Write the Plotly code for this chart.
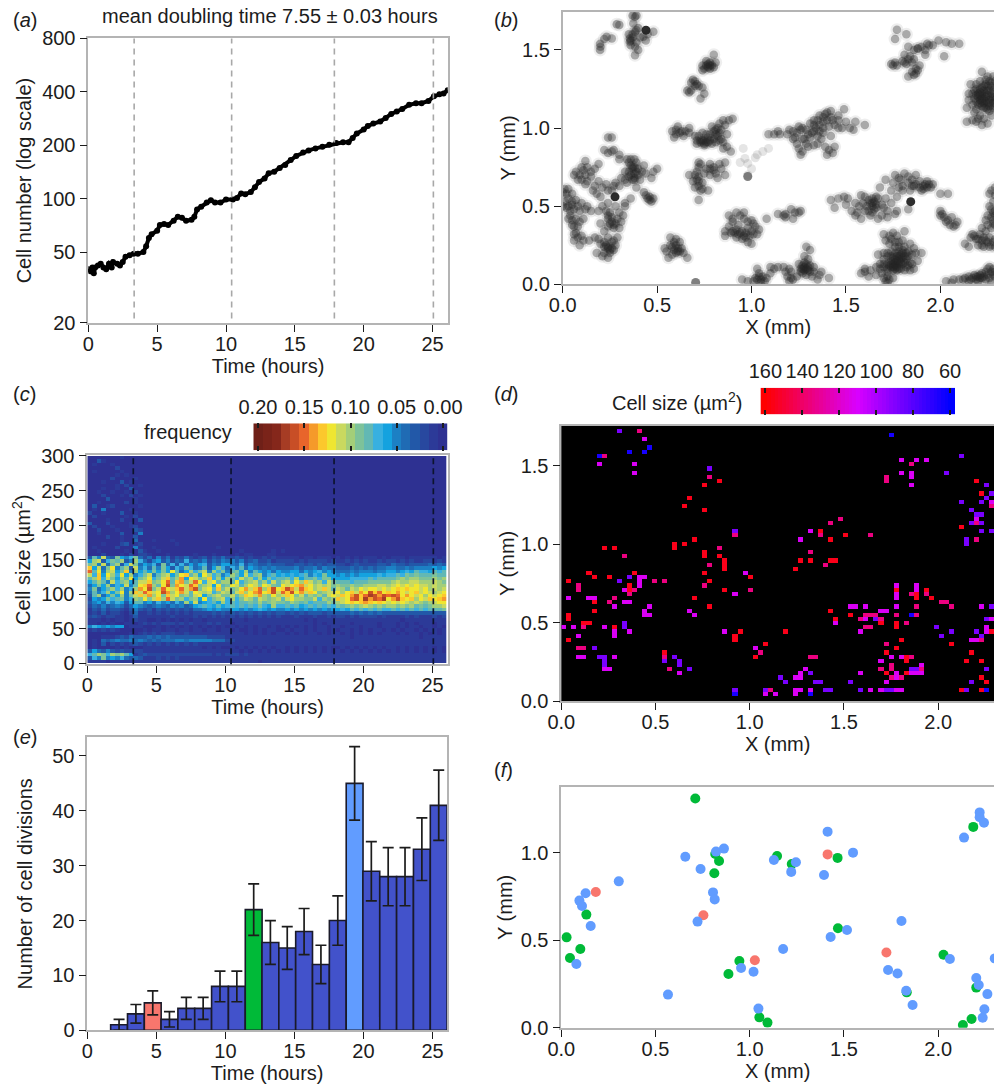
import plotly.graph_objects as go

W, H = 994, 1086
FONT = "Liberation Sans"
INK = "#1c1c1c"
FRAME = "#b4b4b4"
TICK = 20

# ---------- (a) cell number ----------
a_time = [0,.15,.3,.4,.5,.7,.9,1.1,1.3,1.5,1.7,1.8,2.1,2.3,2.5,2.7,3,3.3,3.6,4,4.2,4.4,4.6,5,5.2,5.5,5.8,6.2,6.5,6.8,7.1,7.5,7.7,7.9,8.2,8.6,8.9,9.2,9.6,10,10.5,10.8,11.1,11.4,11.8,12.1,12.4,12.8,13.1,13.5,13.9,14.3,14.7,15.1,15.6,16,16.5,17,17.5,18,18.5,18.9,19.2,19.5,20,20.3,20.7,21.2,21.6,22,22.4,22.8,23.3,23.8,24.2,24.7,25.1,25.5,25.8,26.1]
a_cells = [40,39,41,38,41,42,43,41,40,43,41,44,43,42,44,47,48,49,49,50,54,60,63,66,71,72,71,75,79,78,75,76,79,87,90,95,98,95,95,99,99,101,107,106,109,116,124,130,139,142,149,155,165,174,182,187,192,196,201,206,208,208,220,233,245,257,265,272,285,300,310,320,338,345,345,355,378,388,392,408]
event_times = [3.33, 10.41, 17.87, 25.06]
a_yticks = [20, 50, 100, 200, 400, 800]

# ---------- (b) cell positions (mm) ----------
b_pts_top = [(.198,1.54),(.198,1.5),(.233,1.584),(.26,1.574),(.286,1.665),(.356,1.574),(.356,1.552),(.36,1.56),(.383,1.616),(.39,1.627),(.383,1.712),(.374,1.67),(.383,1.52),(.383,1.467),(.427,1.584),(.48,1.616),(.37,1.6),(.40,1.64),
 (.76,1.40),(.77,1.41),(.78,1.42),(.79,1.40),(.75,1.38),(.80,1.39),(.80,1.47),(.70,1.30),(.69,1.31),(.71,1.28),(.67,1.23),(.66,1.24),(.73,1.19),(.75,1.22),(.72,1.27),(.77,1.39),(.78,1.40)]
b_pts_mid = [(.58,.98),(.60,.99),(.62,.97),(.63,.98),(.60,.96),(.65,.98),(.71,.92),(.73,.91),(.74,.92),(.76,.91),(.78,.92),(.80,.93),(.82,.95),(.83,.97),(.84,.99),(.86,1.02),(.88,1.05),(.90,1.06),(.80,.98),(.82,1.0),(.78,.96),(.84,.93),(.87,.88),(.89,.85),(.85,.91),(.74,.97),(.70,.95),(.73,.92),(.75,.90),
 (.72,.78),(.72,.75),(.76,.74),(.80,.75),(.80,.73),(.83,.77),(.86,.78),(.86,.70),(.70,.70),(.67,.70),(.71,.67),(.72,.66),(.74,.65),(.73,.60),(.72,.54),(.77,.60),(.78,.74),(.72,.69),
 (1.09,.96),(1.12,.96),(1.15,.96),(1.19,.96),(1.22,.98),(1.24,.97),(1.26,.99),(1.30,.96),(1.32,.97),(1.34,1.0),(1.36,1.02),(1.38,1.04),(1.40,1.05),(1.36,.98),(1.42,1.07),(1.40,1.10),(1.36,1.08),(1.33,1.05),(1.44,1.02),(1.46,1.00),(1.48,1.0),(1.52,1.0),(1.54,.99),(1.46,1.08),(1.49,1.12),(1.55,1.04),(1.60,1.02),(1.24,.90),(1.25,.87),(1.26,.83),(1.30,.88),(1.33,.89),(1.37,.93),(1.41,.86),(1.40,.83),(1.44,.88),(1.43,.84),(1.28,.93)]
b_pts_left = [(.24,.94),(.26,.94),(.22,.86),(.26,.85),(.30,.83),(.12,.79),(.10,.75),(.07,.72),(.09,.70),(.10,.67),(.12,.70),(.17,.74),(.15,.72),(.13,.66),(.18,.58),(.16,.60),(.20,.56),
 (.36,.80),(.36,.76),(.37,.74),(.38,.75),(.39,.78),(.40,.74),(.43,.76),(.44,.71),(.47,.68),(.50,.74),(.48,.72),(.38,.68),(.37,.67),(.40,.70),(.34,.65),(.30,.63),(.27,.63),(.33,.67),(.39,.62),(.37,.75),(.38,.67),
 (.01,.61),(.03,.61),(.03,.50),(.02,.49),(.05,.51),(.05,.53),(.06,.48),(.09,.47),(.12,.48),(.07,.42),(.05,.38),(.06,.37),(.09,.40),(.04,.44),(.08,.30),(.10,.31),
 (.23,.47),(.25,.46),(.26,.43),(.24,.42),(.27,.38),(.28,.39),(.24,.37),(.30,.46),(.33,.50),(.32,.44),(.44,.57),(.46,.54),(.47,.53),(.48,.55),
 (.17,.30),(.20,.26),(.22,.24),(.24,.23),(.26,.23),(.28,.25),(.29,.30),(.27,.28),(.21,.18),(.24,.17),(.25,.20),(.06,.28),(.09,.25),
 (.54,.23),(.57,.30),(.58,.24),(.59,.22),(.61,.23),(.61,.21),(.59,.27),(.56,.17),(.62,.27),(.64,.20),(.66,.17)]
b_pts_low = [(.88,.44),(.92,.46),(.96,.46),(.90,.40),(.93,.38),(.96,.42),(1.0,.41),(1.02,.37),(.86,.34),(.89,.33),(.91,.33),(.93,.32),(.95,.34),(.97,.33),(.99,.31),(1.01,.32),(1.03,.32),(1.04,.35),(.98,.27),(1.0,.26),(1.08,.42),(1.14,.45),
 (1.17,.44),(1.18,.45),(1.21,.48),(1.23,.46),(1.25,.46),(1.26,.47),(1.22,.42),(1.18,.43),
 (.95,.03),(.98,.02),(1.02,.04),(1.04,.05),(1.05,.03),(1.07,.02),(1.03,.10),(1.08,.04),(1.10,.11),(1.14,.11),(1.17,.11),(1.20,.10),(1.19,.05),(1.21,.04),(1.22,.03),(1.26,.10),(1.27,.12),(1.28,.11),(1.30,.09),(1.27,.07),(1.31,.12),(1.29,.24),(1.31,.22),(1.28,.18),(1.30,.16),(1.33,.08),(1.36,.06),(1.41,.04),(1.32,.05),(1.28,.09),(1.29,.10)]
b_pts_right = [(1.42,.54),(1.44,.49),(1.46,.55),(1.49,.56),(1.51,.55),(1.55,.52),(1.56,.46),(1.58,.57),(1.60,.56),(1.63,.52),(1.64,.50),(1.65,.53),(1.67,.55),(1.65,.48),(1.69,.51),(1.63,.44),(1.69,.44),(1.60,.47),(1.72,.47),(1.76,.45),(1.78,.62),(1.74,.60),(1.76,.70),(1.79,.67),(1.81,.71),(1.83,.65),(1.87,.70),(1.86,.63),(1.89,.62),(1.91,.63),(1.93,.66),(1.93,.62),(1.95,.62),(1.85,.63),(1.75,.65),(1.71,.67),(1.80,.60),(1.90,.60),(2.04,.58),(2.0,.58),(1.68,.62),(1.83,.48),(1.64,.52),(1.66,.51),
 (1.60,.08),(1.62,.05),(1.60,.10),(1.67,.19),(1.70,.20),(1.72,.18),(1.74,.15),(1.76,.16),(1.78,.18),(1.80,.20),(1.82,.16),(1.84,.14),(1.85,.19),(1.87,.20),(1.90,.20),(1.78,.13),(1.80,.13),(1.76,.12),(1.74,.11),(1.72,.10),(1.70,.11),(1.68,.10),(1.75,.09),(1.72,.05),(1.70,.04),(1.71,.02),(1.78,.10),(1.82,.11),(1.86,.10),(1.70,.32),(1.73,.31),(1.75,.33),(1.77,.31),(1.81,.34),(1.73,.26),(1.78,.24),(1.84,.26),(1.76,.20),(1.79,.16),(1.81,.18),(1.83,.18),(1.77,.09),(1.74,.18),(1.70,.16),(1.88,.15),(1.77,.15),(1.79,.14),(1.75,.13),(1.80,.17),(1.73,.12),
 (2.0,.47),(2.01,.45),(2.04,.41),(2.05,.38),(2.07,.37),(2.09,.40),(2.02,.43)]
b_pts_corner = [(1.77,1.63),(1.82,1.6),(1.76,1.57),(1.83,1.52),(1.88,1.51),(1.94,1.53),(1.96,1.53),(1.99,1.56),(2.03,1.55),(2.06,1.54),(2.10,1.54),(2.02,1.46),(1.74,1.41),(1.76,1.42),(1.80,1.43),(1.82,1.41),(1.84,1.46),(1.86,1.44),(1.85,1.36),(1.87,1.35),(1.83,1.33),(1.89,1.40),(1.92,1.47),(1.88,1.51),
 (2.17,1.22),(2.19,1.25),(2.20,1.20),(2.21,1.18),(2.22,1.22),(2.23,1.16),(2.24,1.20),(2.25,1.24),(2.26,1.18),(2.27,1.22),(2.20,1.15),(2.22,1.14),(2.24,1.13),(2.26,1.14),(2.28,1.16),(2.19,1.28),(2.21,1.30),(2.22,1.26),(2.24,1.28),(2.26,1.30),(2.28,1.33),(2.27,1.27),(2.25,1.33),(2.22,1.36),(2.15,1.18),(2.17,1.15),(2.19,1.12),(2.16,1.28),(2.21,1.08),(2.20,1.06),(2.17,1.05),(2.22,1.02),(2.14,1.04),(2.25,1.03),(2.14,1.13),(2.27,1.08),(2.29,1.2),(2.29,1.26),(2.29,1.14),(2.21,1.21),(2.23,1.19),(2.22,1.17),(2.24,1.22),(2.20,1.22),(2.25,1.16),
 (2.27,.60),(2.26,.58),(2.29,.62),(2.28,.46),(2.27,.48),(2.25,.44),(2.24,.41),(2.29,.44),(2.17,.32),(2.19,.29),(2.21,.32),(2.23,.30),(2.25,.27),(2.27,.25),(2.13,.26),(2.22,.25),(2.29,.29),(2.28,.39),(2.29,.24),
 (2.03,.02),(2.07,.03),(2.10,.03),(2.13,.04),(2.15,.05),(2.17,.04),(2.19,.05),(2.21,.06),(2.22,.04),(2.24,.08),(2.26,.11),(2.28,.06),(2.24,.03),(2.27,.01),(2.29,.08),(2.2,.02)]
b_pts_dense_upper = [(.22,1.57),(.20,1.52),(.30,1.66),(.35,1.60),(.37,1.58),(.39,1.55),(.41,1.58),(.36,1.53),(.40,1.50),(.39,1.72),(.37,1.72),(.45,1.60),(.44,1.56),
 (.74,1.37),(.76,1.43),(.78,1.38),(.81,1.42),(.74,1.40),(.68,1.29),(.70,1.27),(.68,1.24),(.74,1.26),
 (.59,.94),(.61,1.01),(.64,.95),(.67,.97),(.71,.90),(.75,.89),(.77,.94),(.79,.90),(.81,.91),(.83,.92),(.81,.99),(.79,1.01),(.83,1.03),(.85,1.05),(.72,.95),(.76,.96),(.87,.96),(.85,.87),(.67,1.0),(.81,.96),(.77,.91),(.75,.92),
 (.71,.72),(.73,.77),(.75,.71),(.78,.77),(.81,.71),(.78,.70),(.84,.74),(.82,.68),(.69,.66),(.74,.61),(.70,.62),(.72,.63),
 (1.14,.98),(1.20,.99),(1.23,.94),(1.27,.93),(1.29,.99),(1.31,.94),(1.33,1.02),(1.35,.95),(1.38,1.0),(1.38,.97),(1.41,1.01),(1.43,1.05),(1.35,1.05),(1.38,1.07),(1.31,1.03),(1.27,1.0),(1.22,.93),(1.27,.85),(1.29,.90),(1.35,.90),(1.39,.88),(1.42,.95),(1.46,1.05),(1.50,1.04),(1.39,1.09),(1.42,1.11),(1.33,.98),(1.25,1.01),
 (1.81,1.42),(1.83,1.44),(1.85,1.42),(1.87,1.38),(1.86,1.34),(1.88,1.37),(1.86,1.50),(1.90,1.52),(1.92,1.50),(1.93,1.54),(1.81,1.47),(1.77,1.40),(1.75,1.40),
 (2.18,1.24),(2.19,1.21),(2.21,1.23),(2.23,1.24),(2.25,1.21),(2.27,1.19),(2.28,1.2),(2.22,1.19),(2.24,1.17),(2.26,1.16),(2.21,1.16),(2.23,1.13),(2.25,1.12),(2.19,1.17),(2.18,1.19),(2.23,1.27),(2.25,1.27),(2.27,1.29),(2.29,1.30),(2.24,1.31),(2.28,1.24),(2.29,1.18),(2.26,1.24),(2.21,1.25),(2.28,1.13),(2.15,1.22),(2.18,1.10),(2.19,1.04),(2.23,1.06),(2.26,1.11)]
b_pts_dense_lower = [(.11,.73),(.13,.75),(.15,.69),(.08,.67),(.12,.64),(.06,.70),(.19,.77),(.19,.66),(.17,.63),(.23,.64),(.21,.62),(.24,.60),(.26,.60),(.28,.65),(.31,.68),(.35,.72),(.35,.69),(.36,.70),(.33,.72),(.42,.72),(.41,.67),(.38,.71),(.39,.72),(.35,.78),(.38,.80),(.34,.80),(.30,.80),(.27,.86),(.24,.84),
 (.0,.50),(.01,.53),(.04,.47),(.03,.55),(.07,.54),(.10,.52),(.08,.50),(.05,.41),(.03,.42),(.08,.37),(.11,.42),(.13,.50),(.15,.47),(.0,.59),(.02,.58),(.05,.58),(.07,.33),(.06,.32),(.11,.28),(.14,.28),
 (.19,.47),(.21,.50),(.24,.52),(.24,.44),(.26,.40),(.25,.39),(.27,.36),(.29,.42),(.20,.39),(.22,.34),(.31,.40),(.30,.36),(.33,.52),(.36,.55),(.28,.50),
 (.24,.24),(.25,.22),(.23,.25),(.27,.22),(.22,.27),(.19,.29),(.26,.27),(.24,.30),(.18,.20),(.22,.20),(.45,.55),(.46,.56),(.43,.59),
 (.55,.21),(.60,.25),(.62,.21),(.60,.20),(.58,.19),(.63,.23),(.57,.25),(.60,.29),
 (.90,.34),(.92,.35),(.94,.33),(.96,.31),(.98,.36),(1.0,.34),(.92,.30),(.95,.29),(.97,.30),(.88,.37),(.90,.42),(.94,.44),(.98,.40),(1.01,.39),(.86,.31),
 (1.04,.07),(1.06,.05),(1.03,.03),(1.05,.01),(1.01,.02),(1.10,.07),(1.12,.10),(1.18,.08),(1.21,.08),(1.24,.05),(1.20,.02),(1.25,.13),(1.28,.14),(1.26,.08),(1.29,.06),(1.31,.08),(1.33,.11),(1.27,.10),(1.30,.11),(1.29,.13),(1.35,.03),(1.37,.08),
 (1.50,.51),(1.53,.47),(1.57,.50),(1.59,.52),(1.61,.50),(1.62,.54),(1.64,.55),(1.66,.56),(1.66,.49),(1.64,.46),(1.62,.47),(1.67,.42),(1.70,.49),(1.72,.43),(1.58,.42),(1.55,.44),(1.78,.68),(1.80,.63),(1.83,.69),(1.85,.67),(1.87,.64),(1.89,.66),(1.91,.61),(1.94,.64),(1.92,.64),(1.96,.64),(1.77,.56),(1.74,.52),(1.71,.55),(1.84,.60),(1.77,.47),
 (1.75,.17),(1.77,.18),(1.79,.19),(1.81,.14),(1.83,.12),(1.85,.13),(1.82,.20),(1.80,.22),(1.78,.21),(1.76,.14),(1.74,.13),(1.72,.13),(1.70,.13),(1.68,.13),(1.66,.11),(1.72,.20),(1.74,.21),(1.77,.11),(1.79,.10),(1.75,.11),(1.72,.08),(1.69,.07),(1.66,.06),(1.58,.07),(1.63,.09),(1.73,.03),(1.72,.01),(1.75,.04),(1.81,.09),(1.84,.09),(1.83,.21),(1.71,.28),(1.74,.29),(1.76,.27),(1.78,.27),(1.80,.28),(1.81,.24),(1.86,.23),(1.76,.24),(1.78,.15),(1.76,.10),
 (2.03,.40),(2.06,.43),(2.08,.38),(2.0,.44),
 (2.16,.30),(2.18,.31),(2.20,.29),(2.22,.28),(2.24,.28),(2.26,.24),(2.28,.27),(2.26,.30),(2.24,.34),(2.22,.36),(2.25,.38),(2.27,.43),(2.27,.36),(2.29,.47),(2.26,.50),(2.28,.53),(2.29,.38),(2.15,.24),(2.20,.25),(2.23,.24),(2.29,.57),(2.28,.41),
 (2.12,.03),(2.16,.03),(2.18,.06),(2.20,.05),(2.21,.04),(2.23,.05),(2.22,.07),(2.25,.06),(2.26,.04),(2.27,.08),(2.28,.10),(2.19,.03),(2.15,.02),(2.06,.01),(2.29,.05),(2.25,.10)]
b_pts_faint = [(.965,.806),(1.06,.85),(.98,.774),(.956,.87),(1.02,.81),(1.0,.74),(.98,.70),(1.03,.83),(1.09,.87),(.94,.78)]
b_pts_solid = [(.441,1.627),(.277,.56),(1.843,.529)]
b_pts_grey = [(.704,.012),(.98,.69)]

# ---------- (c) size distribution: hundredths, one character per third of an hour ----------
c_size_bins = list(range(295, -5, -5))
c_rows = [
 "0000000100", "0031000000", "0100010000", "0000002000", "0100000100", "0000001010",
 "0000020000100", "0001000301000", "0000001020010", "0001001003000", "0010010010200", "0002000102010",
 "0000300000100", "0010000020100", "0300120000010", "0105000001000", "2001000300100", "0200000010200",
 "0000100200030", "3000200001000", "0200010001200", "0020001000320", "0010000300150", "0000200100300",
 "0000000100400010001", "0001000230120000000100", "0100002000510010000000000000100",
 "0010000010031001000000000000000001000000101", "0002000102022100010000010001000010110001100",
 "385b43965794 241524132421231324 223212112121 111101101110 101010111010 111011111101",
 "6ab3798a35a7 425635243734352435 453523422312 222121222212 112121211212 212121122121",
 "9a5b48a37b94 657394737464673546 654735433433 322332323233 221232222332 433233334343",
 "d6b49c58a3b5 748596375974583697 475846545454 444534453544 333434343445 544545555656",
 "f8c5ab69d5a6 869696c846a79b5a79 5896a5865646 556646567565 444545554556 656768776878",
 "b7d6ca7c6a57 9b58ab69cd8a6ca795 7a86b79a5786 767678576966 565656666767 787989888988",
 "8ad7b96a8c69 ac79bd8ae6cb9ad7a6 a97b9a7a6978 897a68897996 666777787888 89a9aa999a9a",
 "68a85b79a68b bd9acf8de9bfc7bc8a a8c79ab8a7b8 ab8cadb9a7b9 888788899999 abaabbaaaba9",
 "4696a576b58c dfa8cg9ecbfd9ab6c8 9cb8acb9cb98 cbcdebcabab9 a99a99aaabba bcbcbcbbabaa",
 "59468a7a57ae cg9bfcbdfbeg9bc8d9 b9acebdfadgc dgebfdcabdb8 ba8bacbccbcb cdcdccbcabab",
 "4857a69c5adb fdbcgeaceb8cbab79b a8bdacefcdgb fdgcebdc9abb cacdbecgdfcd cecbcdbcbabc",
 "38a4696a59bd beac9dbc9a8bc69ab9 9b8adcbea9ca bdc9b8a9a8bc bdcegdfhgegf gfcecbcacbcd",
 "2656978957a9 c9bdafb9a79a6c79ab 7a79ba8ba9ab 8bcaa99b7a9a dbcfgdhegfhc egdcdacbdcde",
 "356475763688 564756475a6b56786a 7878898a89a9 98a9897888a9 abcdcdedcdcb cbcbaba9abcc",
 "243534542465 434543545346787686 7878787976a7 787867878787 989a9aba9a9a a9a9a8989aab",
 "132423321353 231323232324456565 566565676565 565656565656 676878787877 878787878889",
 "121312210241 121212121212222323 232323232323 323232333233 333434343433 333333333333",
 "232122110131 111111211112121212 121212121212 111211121121 221212222121 111212111212",
 "111010110121 100101010101101111 111101111111 111110101111 111111111111 110111111111",
 "110101001101 212122212121112121 101111111111 111111101011 111011111011 101010111011",
 "576565660111 000101010101010101 010101011010 101010101101 101110111011 101011011010",
 "121212100000 101101101101101101 101001010110 010110101101 011010101101 010110101101",
 "000000000101 212122211211111111 111101010101 101010110101 101010101011 101011010101",
 "000111232433 343434333333332222 111111111111 111111111111 111011111111 111111011111",
 "010434544545 434344455455555444 221111111111 111111111111 111111111111 111111111111",
 "010302121232 121212121212111111 111111111111 111111111111 111111111111 111111111111",
 "010000101000 111111111111101010 010101010101 101010101010 010101010101 101010101010",
 "364353232222 111111111111111111 111010101010 101010101010 101010101010 101010101010",
 "78a97a9a8612 322222222222222121 222121111111 111111111111 111111111111 111111111111",
 "375956574343 111212121111111111 111111111111 111111111111 111111111111 111111111111",
 "111101111111 111111111111111111 111111101111 111111111111 111111111111 111111111111",
]
c_colors = ["#2E3192","#2C3A98","#28489F","#2258A8","#1F6BB4","#1C80C4","#14A2DF","#38B0E0","#62B8B4","#7DC29A","#A3CE79","#C9D95F","#EFE631","#FCC82C","#F59A2A","#E8652B","#C84E26","#A63C24","#85271B","#7A2319","#6F2018"]
c_bar_values = [.20,.19,.18,.17,.16,.15,.14,.13,.12,.11,.10,.09,.08,.07,.06,.05,.04,.03,.02,.01,.00]
c_bar_ticks = [.20,.15,.10,.05,.00]

# ---------- (d) cell-size map: positions in mm, grouped by size class (um2) ----------
d_155 = [(.748,1.384),(.693,1.303),(.667,1.248),(.748,1.22),(.828,1.412),(.72,1.032),(.613,1.004),(.613,.977),(.667,1.004),(.748,.951),(.748,.924),(.828,.924),(.855,.896),(.855,.868),(.881,.841),(.748,.813),(.80,.758),(.855,.705),(.72,.65),(.80,.594),(.99,.786),(.961,.433),(.934,.408),(.934,.38),(1.069,.352),(1.016,.27),(1.177,.433),
 (.238,.977),(.291,.977),(.158,.813),(.184,.786),(.264,.786),(.397,.813),(.05,.758),(.37,.705),(.37,.732),(.184,.622),(.184,.569),(.05,.541),(.05,.514),(.158,.486),(.131,.486),(.291,.459),(.05,.38),(.56,.297),
 (1.23,.841),(1.257,.896),(1.31,.896),(1.418,.896),(1.445,.896),(1.365,1.085),(1.418,1.032),(1.498,1.06),(1.418,.569),(1.445,.514),(1.527,.541),(1.686,.486),(1.768,.705),(1.768,.486),(1.768,.459),(1.795,.378),(1.768,.325),(1.714,.297),(1.876,.677),(1.876,.65),(1.929,.705),(1.956,.65),(2.064,.352),
 (1.714,.161),(1.822,.27),(1.822,.244),(1.822,.161),(1.795,.08),(2.197,1.413),(2.224,1.332),(2.117,1.113),(2.298,1.032),(2.277,.433),(2.17,.297),(2.144,.244),(2.224,.244),(2.224,.134),(2.25,.108),(2.117,.08),(2.224,.08)]
d_135 = [(.425,1.735),(.238,1.573),(.80,1.44),(.908,1.057),(.828,.977),(.775,.868),(.748,.732),(.99,.705),(1.043,.297),(.344,.924),(.103,.732),(.103,.705),(.507,.758),(.534,.758),(.397,.705),(.37,.677),(.291,.65),(.264,.622),(.131,.459),(.103,.325),(.129,.325),(.56,.27),(.587,.189),(1.096,.055),
 (1.312,.27),(1.339,.27),(1.39,.868),(1.31,.951),(1.365,1.06),(1.418,1.14),(1.472,1.167),(1.633,1.06),(1.58,.514),(1.606,.541),(1.633,.541),(1.66,.541),(1.686,.514),(1.606,.459),(1.633,.459),(1.768,.541),(1.714,.352),(1.85,.677),(1.876,.594),(1.876,.541),(1.822,.486),(1.929,.677),(2.01,.622),(2.035,.622),(2.064,.594),(1.742,.217),(1.742,.189),(1.686,.189),(1.742,.134),(1.795,.134),(1.85,.27),(1.903,.189),(1.633,.08),(1.714,1.44),(1.714,1.414),(1.85,1.52),(2.277,1.25),(2.298,1.25),(2.197,1.14),(2.197,1.032),(2.224,.38),(2.298,.244)]
d_112 = [(.452,1.656),(.21,1.52),(.397,1.52),(.397,1.467),(.963,.813),(.934,.677),(.881,.433),(.693,.569),(.72,.541),(1.016,.325),(.424,.786),(.45,.786),(.424,.758),(.424,.732),(.344,.705),(.05,.65),(.158,.65),(.184,.65),(.291,.594),(.344,.622),(.37,.622),(.479,.594),(.452,.569),(.452,.541),(.479,.541),(.025,.459),(.078,.459),(.238,.459),(.291,.433),(.291,.408),(.37,.433),(.103,.408),(.103,.27),(.129,.27),(.291,.27),(.238,.189),(.264,.189),(.64,.163),
 (1.069,.028),(1.122,.028),(1.23,.134),(1.257,.134),(1.257,.161),(1.284,.189),(1.23,.08),(1.257,.08),(1.23,.028),(1.312,.055),(1.257,1.032),(1.31,1.085),(1.445,.486),(1.527,.594),(1.553,.594),(1.606,.594),(1.606,.514),(1.686,.569),(1.713,.569),(1.58,.433),(1.768,.732),(1.768,.677),(1.768,.65),(1.768,.594),(1.876,.732),(1.876,.705),(1.686,.244),(1.768,.161),(1.768,.134),(1.742,.27),(1.795,.27),(1.85,.161),(1.876,.161),(1.903,.161),(1.903,.217),(1.58,.161),(1.58,.055),(1.633,.055),(1.686,.055),(1.714,.108),(1.742,.055),(1.768,.055),(1.795,.055),
 (1.794,1.545),(1.876,1.545),(1.929,1.545),(1.794,1.467),(1.85,1.467),(1.85,1.44),(1.85,1.384),(2.277,1.277),(2.197,1.168),(2.224,.594),(2.25,.459),(2.25,.433),(2.277,.514),(2.17,.38),(2.197,.38),(2.298,.08)]
d_88 = [(.317,1.709),(.775,1.493),(.934,1.085),(.317,.758),(.37,.786),(.344,.486),(.344,.459),(.184,.325),(.21,.27),(.238,.27),(.238,.244),(.238,.217),(.534,.244),(.613,.27),(.64,.244),(.64,.217),(.693,.189),(.934,.08),(1.069,.08),(1.15,.134),(1.177,.108),(1.312,.161),(1.339,.108),(1.365,.108),(1.392,.08),(1.418,.055),(1.66,.514),(1.982,.459),(2.01,.408),(2.064,.433),(1.527,.108),(1.58,.08),(1.714,.08),(1.742,.08),(1.85,.189),(1.876,.189),
 (2.035,1.467),(2.117,1.573),(2.298,1.467),(2.252,1.385),(2.277,1.332),(2.25,1.305),(2.117,1.277),(2.224,1.277),(2.17,1.222),(2.197,1.195),(2.224,1.195),(2.17,1.14),(2.224,1.14),(2.224,1.085),(2.277,1.085),(2.144,1.032),(2.144,1.005),(2.277,.594),(2.25,.514),(2.197,.433),(2.224,.408),(2.25,.189),(2.17,.108),(2.144,.055)]
d_65 = [(.21,1.573),(.37,1.60),(.452,1.60),(.479,1.628),(.934,.028),(1.312,.028),(1.741,1.684),(1.85,.541),(2.25,.08)]
d_class_sizes = [155, 135, 112, 88, 65]
d_bar_values = list(range(162, 56, -2))
d_bar_ticks = [160, 140, 120, 100, 80, 60]

# ---------- (e) divisions ----------
e_centres = [2.3,3.52,4.74,5.95,7.17,8.39,9.61,10.83,12.05,13.26,14.48,15.7,16.92,18.14,19.36,20.57,21.79,23.01,24.23,25.45]
e_counts = [1,3,5,2,4,4,8,8,22,16,15,18,12,20,45,29,28,28,33,41]
e_errors = [1,1.7,2.2,1.4,2,2,2.8,2.8,4.7,4,3.9,4.2,3.5,4.5,6.7,5.4,5.3,5.3,5.7,6.4]
e_colors = ["#4252CB","#4252CB","#F8766D"]+["#4252CB"]*5+["#00BA38"]+["#4252CB"]*5+["#619CFF"]+["#4252CB"]*5

# ---------- (f) division positions (mm) ----------
f_red_x = [.183,.754,1.027,1.413,1.725]
f_red_y = [.775,.642,.385,.99,.43]
f_green_x = [.711,.028,.046,.101,.133,.812,.837,.817,1.145,1.223,1.466,1.468,.945,.887,1.051,1.094,2.028,1.833,2.202,2.177,2.131,2.186]
f_green_y = [1.309,.516,.398,.45,.646,.882,.952,.992,.981,.935,.97,.568,.381,.307,.059,.029,.417,.202,.229,.05,.015,1.147]
f_blue_x = [.305,.129,.096,.11,.156,.08,.566,.658,.739,.821,.863,.805,.814,.723,.954,1.02,1.046,1.177,1.128,1.245,1.22,1.413,1.394,1.548,1.429,1.516,1.805,1.734,1.784,1.83,1.864,2.062,2.202,2.215,2.261,2.245,2.236,2.137,2.22,2.22,2.243,2.30]
f_blue_y = [.836,.768,.726,.695,.581,.364,.189,.977,.907,1.006,1.023,.773,.733,.606,.341,.32,.109,.45,.958,.945,.89,1.12,.872,1.0,.518,.558,.61,.33,.31,.211,.13,.392,.284,.244,.192,.105,.057,1.086,1.23,1.202,1.171,.396]


def dom_x(a, b):
    return [a / W, min(b / W, 1)]


def dom_y(top, bottom):
    return [1 - bottom / H, 1 - top / H]


def axis(dom, rng, title=None, tickv=None, standoff=3, fmt=None, **kw):
    d = dict(domain=dom, range=rng, showgrid=False, zeroline=False, showline=True, linecolor=FRAME,
             linewidth=1.6, mirror=True, ticks="outside", ticklen=7, tickwidth=1.2, tickcolor=INK,
             tickfont=dict(size=TICK, family=FONT, color=INK), tickmode="array", tickvals=tickv,
             ticktext=[(fmt or "{}").format(v) for v in tickv])
    if title:
        d["title"] = dict(text=title, standoff=standoff, font=dict(size=TICK, family=FONT, color=INK))
    d.update(kw)
    return d


fig = go.Figure()
layout = {}

X_HOURS = [0, 5, 10, 15, 20, 25]
XMM = [0, .5, 1, 1.5, 2]
MAP_RIGHT = 994
XPULL = -5

# (a)
fig.add_trace(go.Scatter(x=a_time, y=a_cells, mode="lines+markers", line=dict(color="#000", width=4),
                         marker=dict(color="#000", size=6), xaxis="x", yaxis="y", showlegend=False))
layout["xaxis"] = axis(dom_x(88.3, 447.7), [0, 26.1], "Time (hours)", X_HOURS, anchor="y", ticklabelstandoff=XPULL)
layout["yaxis"] = axis(dom_y(38.4, 322.7), [1.30103, 2.90309], "Cell number (log scale)", a_yticks, standoff=5, type="log", anchor="x")

# (b)
b_all = b_pts_top + b_pts_mid + b_pts_left + b_pts_low + b_pts_right + b_pts_corner + b_pts_dense_upper + b_pts_dense_lower
for pts, col, op, sz in [(b_pts_faint, "#333", .13, 9), (b_all, "#222", .08, 13), (b_all, "#222", .34, 8.5),
                         (b_pts_grey, "#555", .75, 9), (b_pts_solid, "#222", .95, 9)]:
    fig.add_trace(go.Scatter(x=[p[0] for p in pts], y=[p[1] for p in pts], mode="markers",
                             marker=dict(color=col, size=sz, opacity=op, line=dict(width=0)),
                             xaxis="x2", yaxis="y2", showlegend=False))
layout["xaxis2"] = axis(dom_x(562.7, MAP_RIGHT), [0, 2.284], "X (mm)", XMM, fmt="{:.1f}", anchor="y2", ticklabelstandoff=XPULL)
layout["yaxis2"] = axis(dom_y(11.7, 284.3), [0, 1.745], "Y (mm)", [0, .5, 1, 1.5], standoff=1, fmt="{:.1f}", anchor="x2")

# (c)
c_matrix = []
for row in c_rows:
    cells = [int(ch, 36) / 100 for ch in row.replace(" ", "")]
    cells = (cells + [0.0] * 78)[:78]
    c_matrix.append(cells)
n = len(c_colors)
c_scale = []
for i, col in enumerate(c_colors):
    c_scale += [[i / n, col], [(i + 1) / n, col]]
fig.add_trace(go.Heatmap(z=c_matrix, x=[(i + .5) / 3 for i in range(78)], y=[b + 2.5 for b in c_size_bins],
                         colorscale=c_scale, zmin=-.005, zmax=.205, showscale=False, xaxis="x3", yaxis="y3"))
layout["xaxis3"] = axis(dom_x(87.3, 447.7), [0, 26.1], "Time (hours)", X_HOURS, anchor="y3", ticklabelstandoff=XPULL)
layout["yaxis3"] = axis(dom_y(455.3, 664.3), [-1.4, 301], "Cell size (µm<sup>2</sup>)", [0, 50, 100, 150, 200, 250, 300], standoff=5, anchor="x3")

# (c) scale
fig.add_trace(go.Heatmap(z=[c_bar_values], x=c_bar_values, y=[0], colorscale=c_scale, zmin=-.005, zmax=.205,
                         showscale=False, xaxis="x4", yaxis="y4"))
layout["xaxis4"] = axis(dom_x(253.3, 447.7), [.205, -.005], None, c_bar_ticks, fmt="{:.2f}", side="top", anchor="y4",
                        ticks="inside", ticklen=5, tickwidth=1.5, mirror="ticks", linecolor="rgba(0,0,0,0)")
layout["yaxis4"] = dict(domain=dom_y(423.3, 450.3), range=[-.5, .5], visible=False, anchor="x4")

# (d)
grid = 0.0267
d_cols, d_rows = 87, 66
d_matrix = [[None] * d_cols for _ in range(d_rows)]
for pts, size in zip([d_155, d_135, d_112, d_88, d_65], d_class_sizes):
    for px_, py_ in pts:
        d_matrix[int(py_ / grid)][int(px_ / grid)] = size
d_scale = [[0, "#0000FF"], [.5, "#D800FF"], [1, "#FF0000"]]
fig.add_trace(go.Heatmap(z=d_matrix, x=[(i + .5) * grid for i in range(d_cols)], y=[(i + .5) * grid for i in range(d_rows)],
                         colorscale=d_scale, zmin=60, zmax=160, showscale=False, hoverongaps=False, xaxis="x5", yaxis="y5"))
layout["xaxis5"] = axis(dom_x(561.3, MAP_RIGHT), [0, 2.296], "X (mm)", XMM, fmt="{:.1f}", anchor="y5", ticklabelstandoff=XPULL)
layout["yaxis5"] = axis(dom_y(425.7, 701), [0, 1.755], "Y (mm)", [0, .5, 1, 1.5], standoff=1, fmt="{:.1f}", anchor="x5")

# (d) scale
fig.add_trace(go.Heatmap(z=[d_bar_values], x=d_bar_values, y=[0], colorscale=d_scale, zmin=60, zmax=160,
                         showscale=False, xaxis="x6", yaxis="y6"))
layout["xaxis6"] = axis(dom_x(760.7, 955), [162.5, 57.3], None, d_bar_ticks, side="top", anchor="y6",
                        ticks="inside", ticklen=5, tickwidth=1.5, mirror="ticks", linecolor="rgba(0,0,0,0)")
layout["yaxis6"] = dict(domain=dom_y(387.7, 414.3), range=[-.5, .5], visible=False, anchor="x6")

# (e)
fig.add_trace(go.Bar(x=e_centres, y=e_counts, width=1.218, marker=dict(color=e_colors, line=dict(color="#1a1a2a", width=1.6)),
                     error_y=dict(type="data", array=e_errors, color="#1c1c1c", thickness=1.7, width=5.5),
                     xaxis="x7", yaxis="y7", showlegend=False))
layout["xaxis7"] = axis(dom_x(87.3, 447), [0, 26.05], "Time (hours)", X_HOURS, anchor="y7", ticklabelstandoff=XPULL)
layout["yaxis7"] = axis(dom_y(737.3, 1030.3), [0, 53.4], "Number of cell divisions", [0, 10, 20, 30, 40, 50], standoff=14, anchor="x7")

# (f)
for xs, ys, col in [(f_red_x, f_red_y, "#F8766D"), (f_green_x, f_green_y, "#00BA38"), (f_blue_x, f_blue_y, "#619CFF")]:
    fig.add_trace(go.Scatter(x=xs, y=ys, mode="markers", marker=dict(color=col, size=10, line=dict(width=0)),
                             xaxis="x8", yaxis="y8", showlegend=False))
layout["xaxis8"] = axis(dom_x(561.3, MAP_RIGHT), [0, 2.296], "X (mm)", XMM, fmt="{:.1f}", anchor="y8", ticklabelstandoff=XPULL)
layout["yaxis8"] = axis(dom_y(787, 1027.7), [0, 1.375], "Y (mm)", [0, .5, 1], fmt="{:.1f}", anchor="x8")

# event lines
shapes = []
for t in event_times:
    shapes.append(dict(type="line", xref="x", yref="y domain", x0=t, x1=t, y0=.015, y1=1,
                       line=dict(color="#a8a8a8", width=1.6, dash="6px,5px")))
    shapes.append(dict(type="line", xref="x3", yref="y3 domain", x0=t, x1=t, y0=0, y1=1,
                       line=dict(color="#0d1430", width=1.7, dash="6px,4px")))
# black map background
shapes.append(dict(type="rect", xref="x5 domain", yref="y5 domain", x0=0, x1=1, y0=0, y1=1,
                   fillcolor="black", line_width=0, layer="below"))


def note(text, x, y, size=TICK, anchor="left"):
    return dict(text=text, xref="paper", yref="paper", x=x / W, y=1 - y / H, showarrow=False, xanchor=anchor,
                yanchor="middle", font=dict(size=size, family=FONT, color=INK))


annotations = [
    note("(<i>a</i>)", 11, 20), note("(<i>b</i>)", 492, 20), note("(<i>c</i>)", 11, 394),
    note("(<i>d</i>)", 492, 394), note("(<i>e</i>)", 11, 737), note("(<i>f</i>)", 492, 770),
    note("mean doubling time 7.55 ± 0.03 hours", 270, 16, anchor="center"),
    note("frequency", 234, 432, anchor="right"),
    note("Cell size (µm<sup>2</sup>)", 744, 401, anchor="right"),
]

fig.update_layout(width=W, height=H, margin=dict(l=0, r=0, t=0, b=0), paper_bgcolor="white", plot_bgcolor="white",
                  shapes=shapes, annotations=annotations, showlegend=False, template=None, **layout)

fig.write_html("out.html", config=dict(displayModeBar=False),
               post_script="document.body.style.margin='0';document.body.style.overflow='hidden';")
